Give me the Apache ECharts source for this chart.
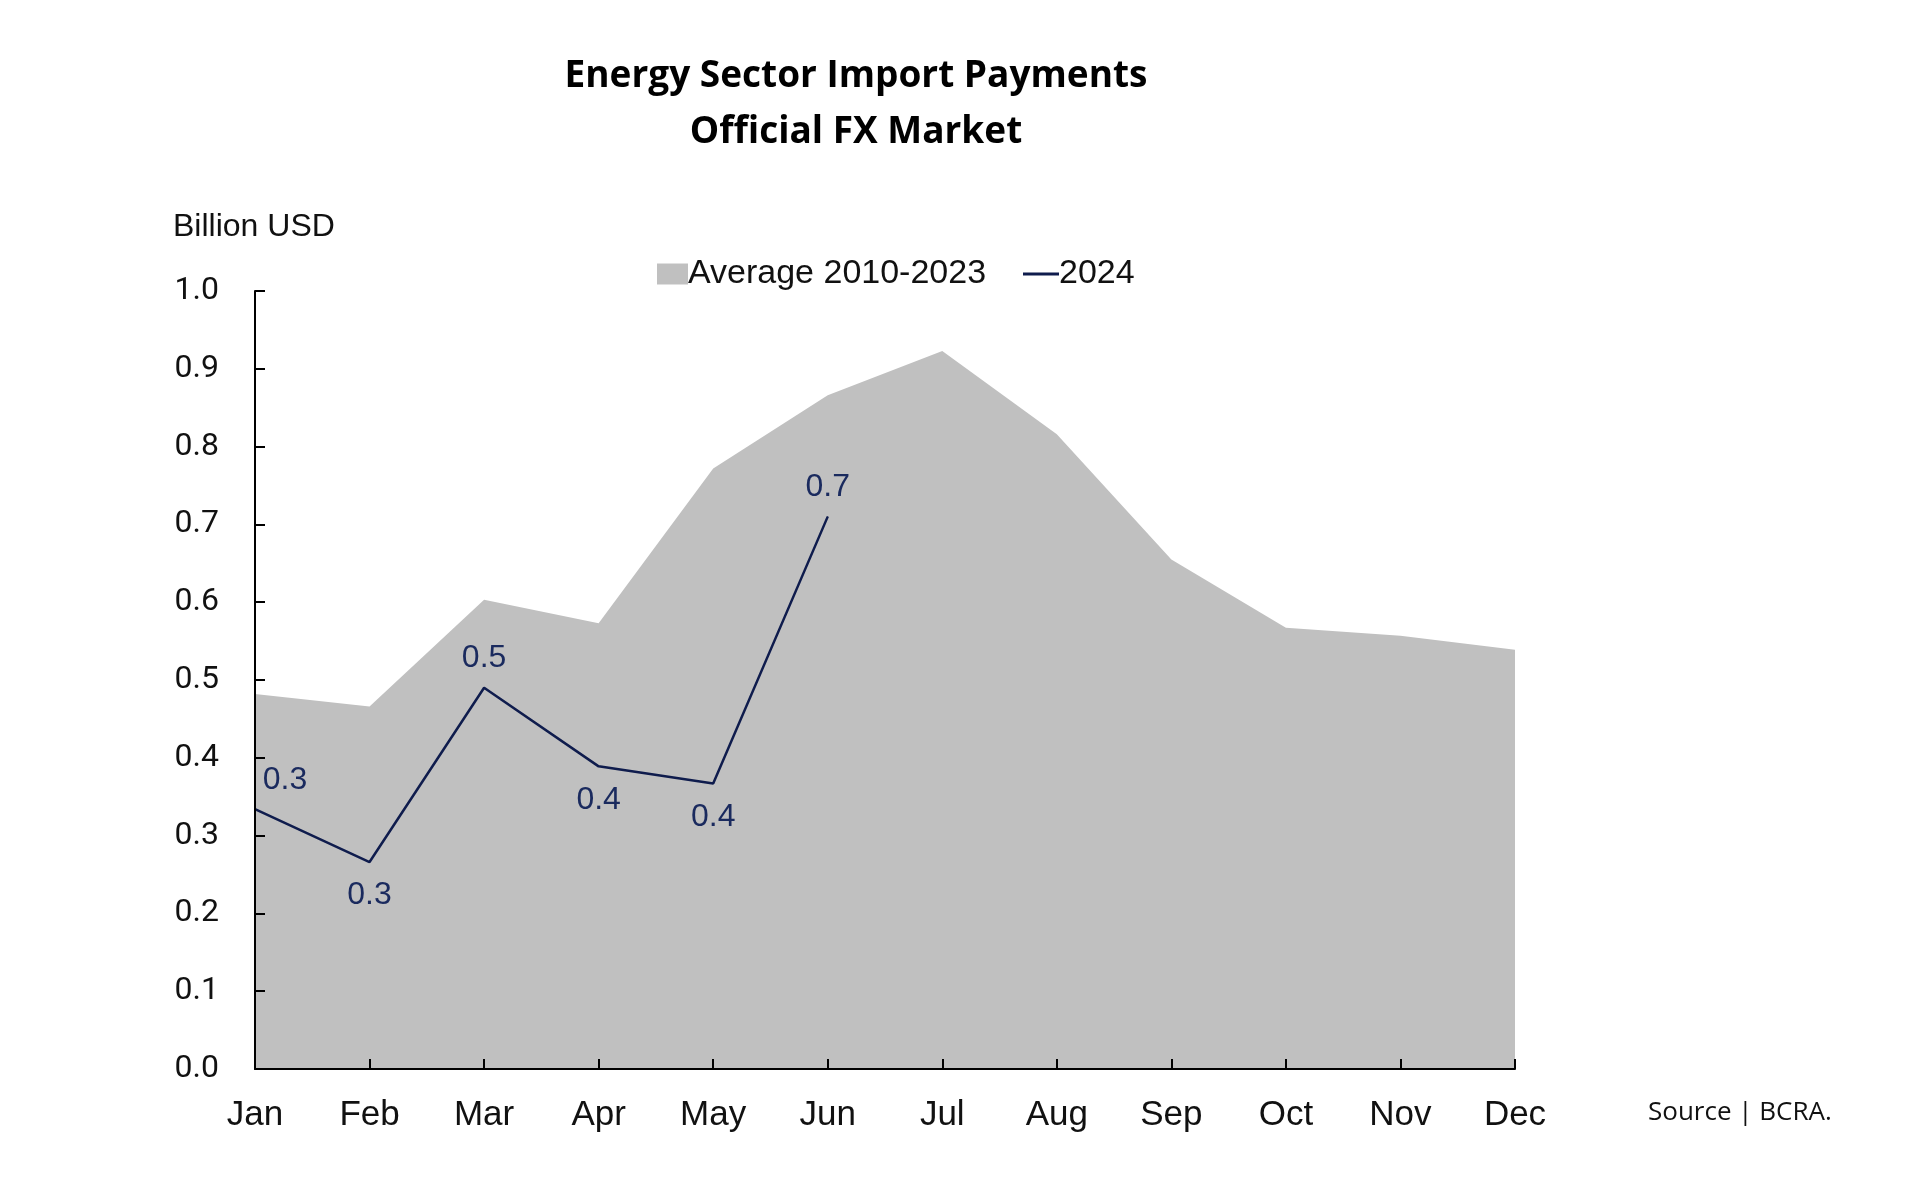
<!DOCTYPE html>
<html>
<head>
<meta charset="utf-8">
<script src="https://cdn.jsdelivr.net/npm/echarts@6/dist/echarts.min.js"></script>
<style>
html,body{margin:0;padding:0;background:#fff;}
#c{width:1920px;height:1199px;}
</style>
</head>
<body>
<div id="c"></div>
<script>
const months = ['Jan','Feb','Mar','Apr','May','Jun','Jul','Aug','Sep','Oct','Nov','Dec'];
const average2010_2023 = [0.482,0.466,0.603,0.573,0.772,0.866,0.923,0.816,0.655,0.567,0.557,0.539];
const values2024 = [0.334,0.266,0.490,0.389,0.367,0.710];
const labelPositions2024 = ['topRight','bottom','top','bottom','bottom','top'];

const chart = echarts.init(document.getElementById('c'));
const narrow = '"Liberation Sans Narrow", "Arial Narrow", "Liberation Sans", Arial, sans-serif';
const navy = '#0f1c4d';

const lineData = values2024.map((v,i)=>{
  const pos = labelPositions2024[i];
  let lbl;
  if (pos==='topRight') lbl = {position:'top', offset:[30,2]};
  else if (pos==='bottom') lbl = {position:'bottom', distance:17};
  else lbl = {position:'top', distance:13};
  return {value:v, label:lbl};
});

chart.setOption({
  animation:false,
  backgroundColor:'#fff',
  title:{
    text:'Energy Sector Import Payments\nOfficial FX Market',
    left:851, top:43, textAlign:'center',
    textStyle:{fontFamily:'"Open Sans", "Noto Sans", sans-serif', fontWeight:'bold', fontSize:37, lineHeight:56, color:'#000'}
  },
  graphic:[
    {type:'text', left:173, top:211, style:{text:'Billion USD', fontFamily:narrow, fontSize:32, fill:'#111'}},
    {type:'text', left:1648, top:1100, style:{text:'Source | BCRA.', fontFamily:'"Open Sans", "Noto Sans", sans-serif', fontSize:26, fill:'#111'}}
  ],
  legend:[
    {left:652, top:252, itemWidth:31, itemHeight:21, itemGap:10,
     data:[{name:'Average 2010-2023', icon:'rect', itemStyle:{color:'#c0c0c0'}}],
     textStyle:{fontFamily:narrow, fontSize:34, color:'#111', padding:[0,0,0,-5]}},
    {left:1018, top:252, itemWidth:36, itemHeight:21,
     data:[{name:'2024', icon:'path://M0,9 L36,9 L36,12 L0,12 Z', itemStyle:{color:navy}}],
     textStyle:{fontFamily:narrow, fontSize:34, color:'#111', padding:[0,0,0,-5]}}
  ],
  grid:{left:255, right:405, top:291, bottom:130, containLabel:false},
  xAxis:{
    type:'category', data:months, boundaryGap:false, z:10,
    axisLine:{lineStyle:{color:'#000', width:2}},
    axisTick:{show:true, inside:true, length:10, alignWithLabel:true, lineStyle:{color:'#000', width:2}},
    axisLabel:{fontFamily:narrow, fontSize:35, color:'#111', margin:29}
  },
  yAxis:{
    type:'value', min:0, max:1, interval:0.1, z:10,
    splitLine:{show:false},
    axisLine:{show:true, lineStyle:{color:'#000', width:2}},
    axisTick:{show:true, inside:true, length:10, lineStyle:{color:'#000', width:2}},
    axisLabel:{fontFamily:'Roboto, "Liberation Sans", sans-serif', fontSize:32, color:'#111', margin:36, formatter:v=>v.toFixed(1)}
  },
  series:[
    {name:'Average 2010-2023', type:'line', data:average2010_2023, symbol:'none',
     lineStyle:{width:0}, areaStyle:{color:'#c0c0c0', opacity:1}, itemStyle:{color:'#c0c0c0'}, z:1},
    {name:'2024', type:'line', data:lineData, symbol:'circle', symbolSize:1, showSymbol:true,
     lineStyle:{color:navy, width:2.5}, itemStyle:{color:navy},
     label:{show:true, distance:14, fontFamily:narrow, fontSize:32, color:'#1a2a5e', formatter:p=>p.value.toFixed(1)}, z:3}
  ]
});
</script>
</body>
</html>
